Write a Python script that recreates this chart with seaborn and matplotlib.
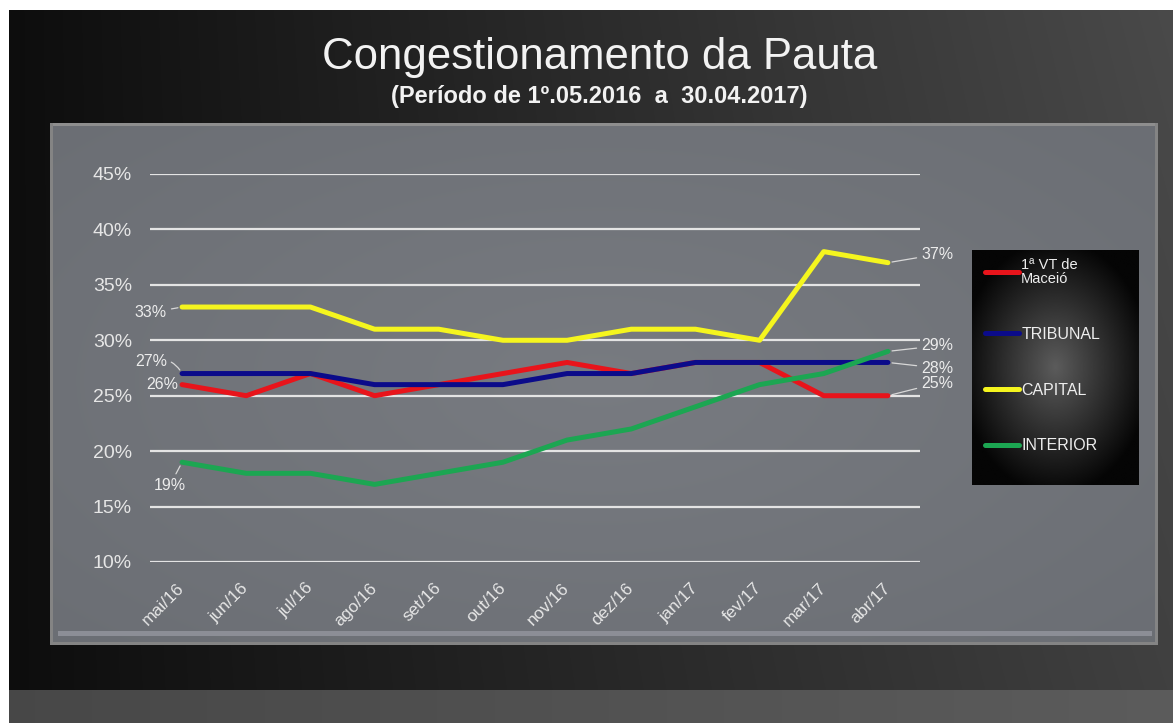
import numpy as np
import pandas as pd
import matplotlib
matplotlib.use("Agg")
import matplotlib.pyplot as plt
import seaborn as sns

# dados (em %)
meses = ["mai/16", "jun/16", "jul/16", "ago/16", "set/16", "out/16",
         "nov/16", "dez/16", "jan/17", "fev/17", "mar/17", "abr/17"]
vt_maceio = [26, 25, 27, 25, 26, 27, 28, 27, 28, 28, 25, 25]
tribunal = [27, 27, 27, 26, 26, 26, 27, 27, 28, 28, 28, 28]
capital = [33, 33, 33, 31, 31, 30, 30, 31, 31, 30, 38, 37]
interior = [19, 18, 18, 17, 18, 19, 21, 22, 24, 26, 27, 29]
series_nomes = ["1ª VT de\nMaceió", "TRIBUNAL", "CAPITAL", "INTERIOR"]
cores = ["#e8141b", "#0b0b8a", "#f5f51e", "#1ca652"]
y_ticks = [10, 15, 20, 25, 30, 35, 40, 45]

sns.set_style("white")
plt.rcParams['font.family'] = ['Liberation Sans', 'DejaVu Sans']

W, H = 1173, 723

def fx(px):
    return px / W

def fy(py):
    return 1 - py / H

# fundo do slide
xs = np.linspace(0, 1, W)[None, :]
ys = np.linspace(0, 1, H)[:, None]
val = 0.05 + 0.20 * xs + 0.04 * (1 - ys) * xs
bg = np.repeat(val[:, :, None], 3, axis=2) * np.ones((H, W, 3))
low = 0.28 + 0.08 * xs
bg[690:, :, :] = np.repeat(low[:, :, None], 3, axis=2)
# painel cinza
r = np.sqrt(((np.arange(W)[None, :] - 600) / 600.0) ** 2 + ((np.arange(H)[:, None] - 380) / 300.0) ** 2)
panel = np.clip(0.43 + 0.04 * (1 - r), 0.40, 0.48)
pan = np.stack([panel, panel + 0.012, panel + 0.035], axis=2)
bg[123:645, 50:1158, :] = pan[123:645, 50:1158, :]
bg[123:126, 50:1158, :] = 0.56
bg[642:645, 50:1158, :] = 0.52
bg[123:645, 50:53, :] = 0.52
bg[123:645, 1155:1158, :] = 0.52
bg[631:636, 58:1152, :] = [0.55, 0.56, 0.59]
bg[:10, :, :] = 1.0
bg[:, :9, :] = 1.0

fig = plt.figure(figsize=(W / 100, H / 100), dpi=100)
bg_ax = fig.add_axes([0, 0, 1, 1], zorder=-10)
bg_ax.imshow(np.clip(bg, 0, 1), aspect='auto', extent=[0, W, H, 0], interpolation='bilinear')
bg_ax.axis('off')

fig.text(0.511, fy(58), "Congestionamento da Pauta", ha='center', va='center',
         fontsize=31.5, color='#f2f2f2')
fig.text(0.511, fy(96), "(Período de 1º.05.2016  a  30.04.2017)", ha='center', va='center',
         fontsize=17, fontweight='bold', color='#f2f2f2')

df = pd.DataFrame({
    'x': list(range(len(meses))) * 4,
    'valor': vt_maceio + tribunal + capital + interior,
    'serie': np.repeat(series_nomes, len(meses)),
})

ax = fig.add_axes([fx(150), fy(562), fx(920 - 150), (562 - 174) / H])
ax.patch.set_alpha(0)
sns.lineplot(data=df, x='x', y='valor', hue='serie', hue_order=series_nomes,
             palette=dict(zip(series_nomes, cores)), linewidth=3.6, ax=ax,
             sort=False, solid_capstyle='round', solid_joinstyle='round')

ax.set_xlim(-0.5, 11.5)
ax.set_ylim(10, 45)
ax.set_yticks(y_ticks)
ax.set_yticklabels([f"{t}%" for t in y_ticks], fontsize=14, color='#e6e6e6')
ax.set_xticks(range(len(meses)))
ax.set_xticklabels(meses, rotation=45, ha='right', va='center', rotation_mode='anchor',
                   fontsize=12.5, color='#e6e6e6')
ax.tick_params(axis='y', length=0, pad=13)
ax.tick_params(axis='x', length=0, pad=17)
ax.yaxis.grid(True, color='#e4e4e4', linewidth=1.6, zorder=0)
ax.xaxis.grid(False)
ax.set_axisbelow(True)
for s in ax.spines.values():
    s.set_visible(False)
ax.set_xlabel("")
ax.set_ylabel("")

handles, labels = ax.get_legend_handles_labels()
ax.get_legend().remove()

# rotulos de dados
lead = dict(arrowstyle='-', color='#d8d8d8', lw=0.9, shrinkA=1, shrinkB=3)
lab = dict(fontsize=11.5, color='#ececec')
ax.annotate(f"{capital[0]}%", xy=(0, capital[0]), xytext=(-11, -4), textcoords='offset points',
            ha='right', va='center', arrowprops=lead, **lab)
ax.annotate(f"{tribunal[0]}%", xy=(0, tribunal[0]), xytext=(-11, 9), textcoords='offset points',
            ha='right', va='center', arrowprops=dict(lead, connectionstyle="arc3,rad=-0.4"), **lab)
ax.annotate(f"{vt_maceio[0]}%", xy=(0, vt_maceio[0]), xytext=(-3, 0), textcoords='offset points',
            ha='right', va='center', **lab)
ax.annotate(f"{interior[0]}%", xy=(0, interior[0]), xytext=(-9, -17), textcoords='offset points',
            ha='center', va='center', arrowprops=lead, **lab)
n = len(meses) - 1
ax.annotate(f"{capital[n]}%", xy=(n, capital[n]), xytext=(24, 6), textcoords='offset points',
            ha='left', va='center', arrowprops=lead, **lab)
ax.annotate(f"{interior[n]}%", xy=(n, interior[n]), xytext=(24, 4), textcoords='offset points',
            ha='left', va='center', arrowprops=lead, **lab)
ax.annotate(f"{tribunal[n]}%", xy=(n, tribunal[n]), xytext=(24, -4), textcoords='offset points',
            ha='left', va='center', arrowprops=lead, **lab)
ax.annotate(f"{vt_maceio[n]}%", xy=(n, vt_maceio[n]), xytext=(24, 9), textcoords='offset points',
            ha='left', va='center', arrowprops=lead, **lab)

# caixa da legenda com degrade
lax = fig.add_axes([fx(972), fy(485), fx(1138 - 972), (485 - 250) / H])
gx = np.linspace(-1, 1, 200)[None, :]
gy = np.linspace(-1, 1, 300)[:, None]
rad = np.sqrt(gx ** 2 * 0.8 + gy ** 2 * 0.9)
lax.imshow(np.clip(0.36 - 0.33 * rad, 0.02, 0.4), cmap='gray', vmin=0, vmax=1,
           aspect='auto', extent=[0, 1, 0, 1])
lax.set_xlim(0, 1)
lax.set_ylim(0, 1)
lax.axis('off')
leg = lax.legend(handles, labels, loc='upper left', bbox_to_anchor=(0.08, 0.965),
                 frameon=False, fontsize=11.5, labelcolor='#eeeeee', handlelength=2.1,
                 handletextpad=0.15, labelspacing=2.55, borderpad=0, borderaxespad=0)
for t in leg.get_texts():
    t.set_linespacing(1.0)
leg.get_texts()[0].set_fontsize(10.5)

fig.savefig("out.png", dpi=100)
